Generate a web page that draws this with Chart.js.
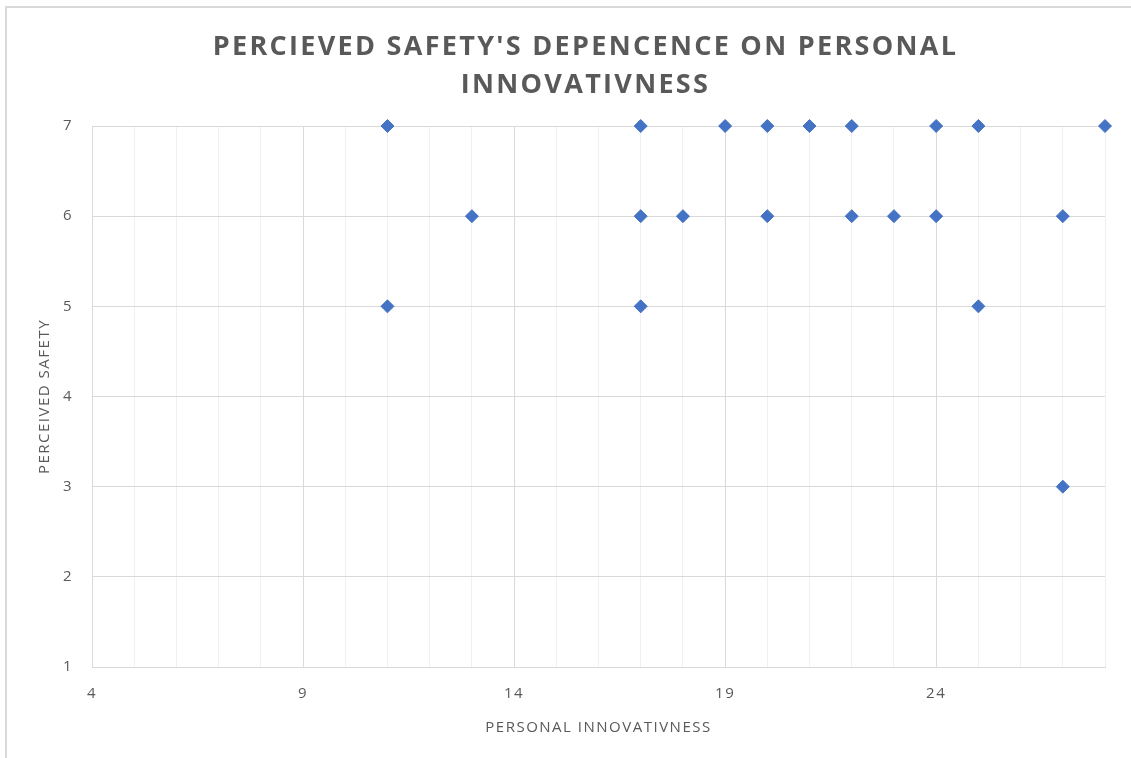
<!DOCTYPE html>
<html>
<head>
<meta charset="utf-8">
<script src="https://cdn.jsdelivr.net/npm/chart.js@4.4.1/dist/chart.umd.min.js"></script>
<style>
  body { margin: 0; background: #fff; }
  #frame { position: absolute; left: 5px; top: 6px; width: 1140px; height: 760px;
           border-left: 2px solid #d9d9d9; border-top: 2px solid #d9d9d9; }
  #chartbox { position: absolute; left: 0; top: 0; width: 1131px; height: 758px; }
</style>
</head>
<body>
<div id="frame"></div>
<div id="chartbox"><canvas id="scatter-chart"></canvas></div>
<script>
// Personal innovativness (x) vs percieved safety (y)
const innovativness = [11, 11, 13, 17, 17, 17, 18, 19, 20, 20, 21, 22, 22, 23, 24, 24, 25, 25, 27, 27, 28];
const safety        = [7, 5, 6, 7, 6, 5, 6, 7, 7, 6, 7, 7, 6, 6, 7, 6, 7, 5, 6, 3, 7];
const xLabelled = [4, 9, 14, 19, 24];
const titleLines = ["PERCIEVED SAFETY'S DEPENCENCE ON PERSONAL", "INNOVATIVNESS"];

const points = innovativness.map((x, i) => ({ x: x, y: safety[i] }));
const textGrey = '#595959';

// the original text is a bit spread out, canvas can do that since chrome 99
const spacing = {
  id: 'spacing',
  beforeDraw(chart) {
    if ('letterSpacing' in chart.ctx) chart.ctx.letterSpacing = '1.5px';
  }
};

// title drawn by hand so it can be letter-spaced like the original
const spacedTitle = {
  id: 'spacedTitle',
  afterDraw(chart) {
    const ctx = chart.ctx;
    ctx.save();
    ctx.font = 'bold 27px "Open Sans"';
    ctx.fillStyle = textGrey;
    ctx.textAlign = 'center';
    ctx.textBaseline = 'middle';
    if ('letterSpacing' in ctx) ctx.letterSpacing = '2.3px';
    const cx = (chart.chartArea.left + chart.chartArea.right) / 2 - 13;
    ctx.fillText(titleLines[0], cx, 47);
    ctx.fillText(titleLines[1], cx, 85);
    ctx.restore();
  }
};

new Chart(document.getElementById("scatter-chart"), {
  type: 'scatter',
  data: {
    datasets: [{
      label: 'Percieved safety',
      data: points,
      pointStyle: 'rectRot',
      pointRadius: 6.5,
      pointHoverRadius: 6.5,
      pointBackgroundColor: '#4472c4',
      pointBorderColor: '#4472c4',
      pointBorderWidth: 1,
      clip: false
    }]
  },
  options: {
    responsive: true,
    maintainAspectRatio: false,
    animation: false,
    layout: { padding: { top: 126, right: 26, left: 0, bottom: 0 } },
    plugins: {
      legend: { display: false },
      title: { display: false },
      tooltip: { enabled: false }
    },
    scales: {
      x: {
        type: 'linear',
        min: 4,
        max: 28,
        afterFit(scale) { scale.height = 91; },
        border: { color: '#d9d9d9', width: 1 },
        grid: {
          drawTicks: false,
          color: (c) => xLabelled.includes(c.tick && c.tick.value) ? '#d9d9d9' : '#f0f0f0'
        },
        ticks: {
          stepSize: 1,
          autoSkip: false,
          maxRotation: 0,
          padding: 18,
          color: textGrey,
          font: { family: 'Open Sans', size: 15 },
          callback: (v) => xLabelled.includes(v) ? v : ''
        },
        title: {
          display: true,
          text: 'PERSONAL INNOVATIVNESS',
          color: textGrey,
          font: { family: 'Open Sans', size: 15 },
          padding: { top: 0, bottom: 21 }
        }
      },
      y: {
        type: 'linear',
        min: 1,
        max: 7,
        afterFit(scale) { scale.width = 92; },
        border: { color: '#d9d9d9', width: 1 },
        grid: { drawTicks: false, color: '#d9d9d9' },
        ticks: {
          stepSize: 1,
          padding: 19,
          color: textGrey,
          font: { family: 'Open Sans', size: 15 }
        },
        title: {
          display: true,
          text: 'PERCEIVED SAFETY',
          color: textGrey,
          font: { family: 'Open Sans', size: 15 },
          padding: { top: 36, bottom: 0 }
        }
      }
    }
  },
  plugins: [spacing, spacedTitle]
});
</script>
</body>
</html>
